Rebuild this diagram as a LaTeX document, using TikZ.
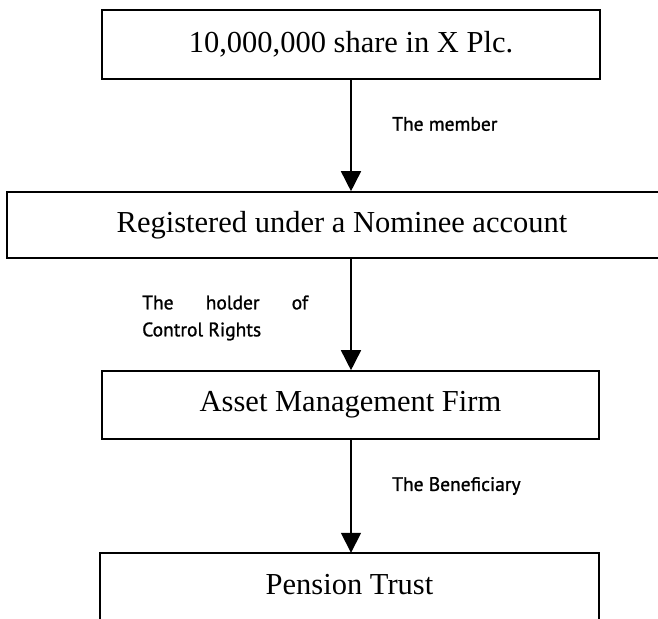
\documentclass[tikz,border=0pt]{standalone}
\usepackage{fontspec}
\setmainfont{Liberation Serif}
\newfontfamily\labelfont[FakeBold=1.2]{PT Sans}
\usetikzlibrary{arrows.meta}
\begin{document}
\begin{tikzpicture}[x=1pt,y=-1pt,
  boxstyle/.style={draw, line width=1.6pt, inner sep=0pt, font=\fontsize{30.5}{36}\selectfont},
  textbox/.style={inner sep=0pt, font=\fontsize{30.5}{36}\selectfont},
  frame/.style={line width=1.6pt},
  lbl/.style={font=\labelfont\fontsize{19.5}{27}\selectfont, inner sep=0pt, anchor=west, align=left},
  conn/.style={line width=1.6pt, -{Triangle[width=20pt,length=20pt]}}]
\useasboundingbox (0,0) rectangle (658,618);
\clip (0,0) rectangle (658,618);
\node[boxstyle, minimum width=498, minimum height=69] (b1) at (351,44.5) {10,000,000 share in X Plc.};
\node[boxstyle, minimum width=670, minimum height=66] (b2) at (342,225) {Registered under a Nominee account};
\node[boxstyle, minimum width=497, minimum height=68] (b3) at (350.5,405) {Asset Management Firm};
\node[textbox, minimum width=499, minimum height=64] (b4) at (349.5,585) {Pension Trust};
\draw[frame] ([yshift=-10pt]b4.south west) -- (b4.north west) -- (b4.north east) -- ([yshift=-10pt]b4.south east);
\draw[conn] (b1.south) -- (b1.south |- b2.north);
\draw[conn] (b1.south |- b2.south) -- (b1.south |- b3.north);
\draw[conn] (b1.south |- b3.south) -- (b1.south |- b4.north);
\node[lbl] (l1) at (392,124) {The member};
\node[lbl] (l2) at (142,318) {\makebox[166pt][s]{The holder of}\\Control Rights};
\node[lbl] (l3) at (392,486) {The Beneficiary};
\end{tikzpicture}
\end{document}
